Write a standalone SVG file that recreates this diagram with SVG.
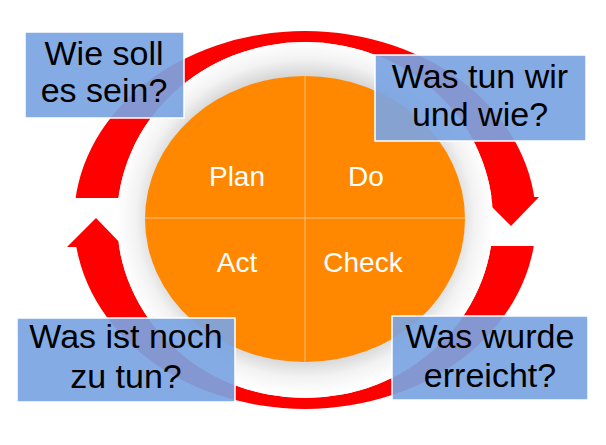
<svg xmlns="http://www.w3.org/2000/svg" width="606" height="445" viewBox="0 0 606 445">
<style>
.box{fill:#7ba4e2;fill-opacity:0.92;stroke:#ffffff;stroke-width:1.5}
.bt{font-family:"Liberation Sans",Arial,sans-serif;font-size:34px;fill:#000;text-anchor:middle}
.ct{font-family:"Liberation Sans",Arial,sans-serif;font-size:28px;fill:#fff;text-anchor:middle}
</style>
<defs>
<radialGradient id="wg" cx="305" cy="218" r="188" gradientUnits="userSpaceOnUse" gradientTransform="translate(305 218) scale(1 0.94) translate(-305 -218)">
<stop offset="0.8" stop-color="#d4d4d4"/>
<stop offset="0.9" stop-color="#f2f2f2"/>
<stop offset="1" stop-color="#ffffff"/>
</radialGradient>
<mask id="gap">
<rect x="0" y="0" width="606" height="445" fill="#fff"/>
<rect x="0" y="198" width="200" height="49" fill="#000"/>
<rect x="400" y="197" width="206" height="49" fill="#000"/>
</mask>
</defs>
<g id="ring">
<path d="M74,220 a231,189 0 1,0 462,0 a231,189 0 1,0 -462,0 Z M117,220 a188,178 0 1,1 376,0 a188,178 0 1,1 -376,0 Z" fill="#ff0000" fill-rule="evenodd" mask="url(#gap)"/>
<polygon points="482,197 539,197 511,226" fill="#ff0000"/>
<polygon points="67,247 124,247 96,218" fill="#ff0000"/>
<ellipse cx="305" cy="220" rx="188" ry="178" fill="url(#wg)"/>
</g>
<g id="cycle">
<ellipse cx="305" cy="219" rx="160" ry="143" fill="#ff8800"/>
<line x1="145" y1="218" x2="465" y2="218" stroke="#ffc080" stroke-width="1"/>
<line x1="305" y1="76" x2="305" y2="362" stroke="#ffc080" stroke-width="1"/>
<text class="ct" x="237" y="186">Plan</text>
<text class="ct" x="366" y="186">Do</text>
<text class="ct" x="237" y="272">Act</text>
<text class="ct" x="363" y="272">Check</text>
</g>
<g id="box1">
<rect class="box" x="25" y="32" width="159" height="86"/>
<text class="bt" x="104" y="65">Wie soll</text>
<text class="bt" x="104" y="102">es sein?</text>
</g>
<g id="box2">
<rect class="box" x="375" y="55" width="211" height="86"/>
<text class="bt" x="480" y="88">Was tun wir</text>
<text class="bt" x="480" y="126">und wie?</text>
</g>
<g id="box3">
<rect class="box" x="17" y="318" width="218" height="84"/>
<text class="bt" x="126" y="348">Was ist noch</text>
<text class="bt" x="126" y="388">zu tun?</text>
</g>
<g id="box4">
<rect class="box" x="392" y="316" width="196" height="84"/>
<text class="bt" x="490" y="348">Was wurde</text>
<text class="bt" x="490" y="387">erreicht?</text>
</g>
</svg>
